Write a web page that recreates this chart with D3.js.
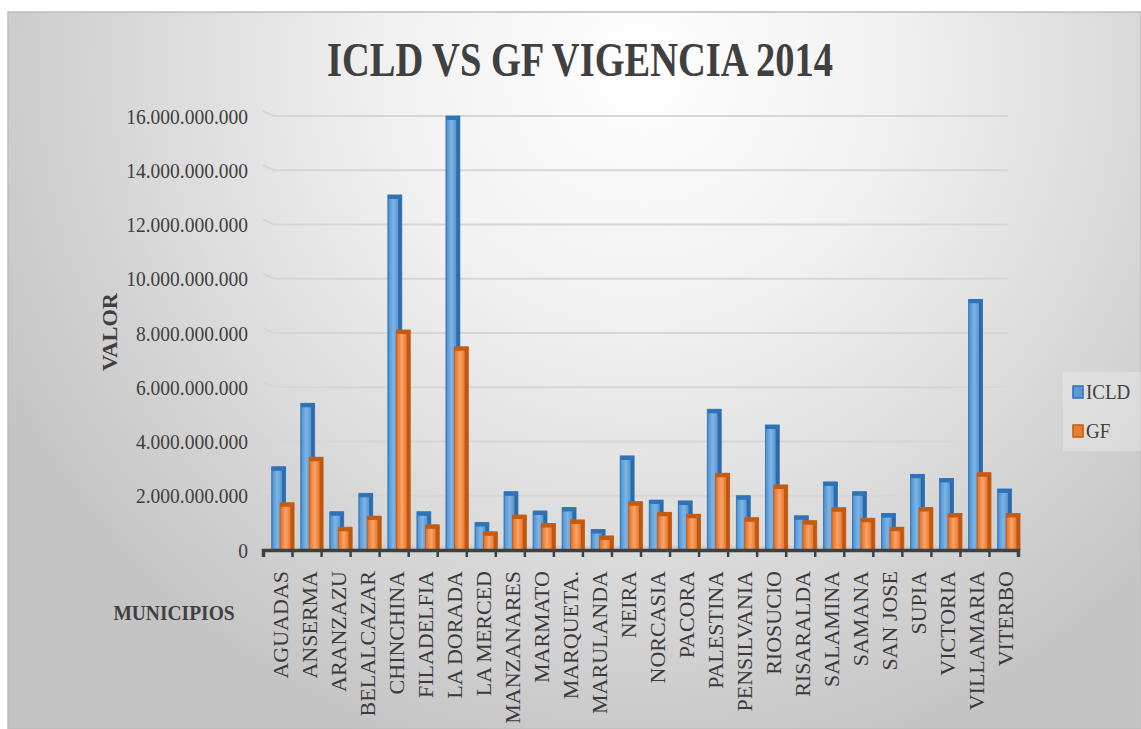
<!DOCTYPE html>
<html>
<head>
<meta charset="utf-8">
<script src="https://cdn.jsdelivr.net/npm/d3@7"></script>
<style>
  body { margin: 0; background: #fff; }
  svg { display: block; font-family: "Liberation Serif", "Times New Roman", serif; }
</style>
</head>
<body>
<div id="chart"></div>
<script>
// données
const municipios = ["AGUADAS", "ANSERMA", "ARANZAZU", "BELALCAZAR", "CHINCHINA", "FILADELFIA",
  "LA DORADA", "LA MERCED", "MANZANARES", "MARMATO", "MARQUETA.", "MARULANDA", "NEIRA",
  "NORCASIA", "PACORA", "PALESTINA", "PENSILVANIA", "RIOSUCIO", "RISARALDA", "SALAMINA",
  "SAMANA", "SAN JOSE", "SUPIA", "VICTORIA", "VILLAMARIA", "VITERBO"];

const icld = [3.07e9, 5.41e9, 1.41e9, 2.09e9, 13.09e9, 1.41e9, 16.0e9, 1.01e9, 2.15e9, 1.44e9,
  1.57e9, 0.76e9, 3.47e9, 1.84e9, 1.81e9, 5.19e9, 2.0e9, 4.61e9, 1.26e9, 2.51e9,
  2.15e9, 1.35e9, 2.79e9, 2.64e9, 9.24e9, 2.25e9];

const gf = [1.74e9, 3.42e9, 0.84e9, 1.25e9, 8.11e9, 0.93e9, 7.49e9, 0.67e9, 1.29e9, 0.98e9,
  1.11e9, 0.52e9, 1.78e9, 1.39e9, 1.32e9, 2.83e9, 1.19e9, 2.4e9, 1.08e9, 1.56e9,
  1.17e9, 0.84e9, 1.57e9, 1.35e9, 2.85e9, 1.35e9];

const series = ["ICLD", "GF"];
const yTicks = [0, 2e9, 4e9, 6e9, 8e9, 10e9, 12e9, 14e9, 16e9];

const W = 1141, H = 729;
const stretch = 1.12; // le texte de l'original est étiré verticalement

const svg = d3.select("#chart").append("svg")
  .attr("width", W)
  .attr("height", H);

const defs = svg.append("defs");

// fond dégradé
const bg = defs.append("radialGradient")
  .attr("id", "bg")
  .attr("gradientUnits", "userSpaceOnUse")
  .attr("cx", 640).attr("cy", 70).attr("r", 720);
bg.append("stop").attr("offset", "0").attr("stop-color", "#ffffff");
bg.append("stop").attr("offset", "0.35").attr("stop-color", "#f1f1f1");
bg.append("stop").attr("offset", "1").attr("stop-color", "#c4c4c4");

// dégradés des barres (effet 3D)
function barGradient(id, edge, light, main, dark) {
  const g = defs.append("linearGradient").attr("id", id)
    .attr("x1", "0").attr("x2", "1").attr("y1", "0").attr("y2", "0");
  g.append("stop").attr("offset", "0").attr("stop-color", edge);
  g.append("stop").attr("offset", "0.12").attr("stop-color", main);
  g.append("stop").attr("offset", "0.4").attr("stop-color", light);
  g.append("stop").attr("offset", "0.7").attr("stop-color", main);
  g.append("stop").attr("offset", "0.78").attr("stop-color", dark);
  g.append("stop").attr("offset", "1").attr("stop-color", dark);
}
barGradient("gICLD", "#3f7fc4", "#7db4e6", "#5b9bd5", "#2e6aa8");
barGradient("gGF", "#d96a22", "#f6a56c", "#ed7d31", "#c1560f");

const couleurs = {
  ICLD: { fill: "url(#gICLD)", dark: "#2e72b8", swatch: "#5b9bd5" },
  GF: { fill: "url(#gGF)", dark: "#c55a11", swatch: "#ed7d31" }
};

svg.append("rect")
  .attr("x", 8).attr("y", 12)
  .attr("width", W - 8).attr("height", H - 12)
  .attr("fill", "url(#bg)")
  .attr("stroke", "#bdbdbd")
  .attr("stroke-width", 1.5);

// échelles
const x = d3.scaleBand()
  .domain(municipios)
  .range([263, 1018])
  .padding(0);

const bw = x.bandwidth();
const xSub = d3.scaleBand()
  .domain(series)
  .range([bw * 0.3, bw * 0.88]);
const barW = bw * 0.48;

const y = d3.scaleLinear()
  .domain([0, 16e9])
  .range([550, 116]);

const fmt = d3.formatLocale({ decimal: ",", thousands: ".", grouping: [3], currency: ["$", ""] }).format(",.0f");

// lignes de quadrillage
svg.append("g")
  .selectAll("path")
  .data(yTicks.filter(d => d > 0))
  .join("path")
  .attr("d", d => `M263,${y(d) - 5}L274,${y(d)}L1008,${y(d)}`)
  .attr("fill", "none")
  .attr("stroke", "#d6d6d6")
  .attr("stroke-width", 2.2);

// sol
svg.append("rect")
  .attr("x", 263).attr("y", y(0) - 4)
  .attr("width", 1018 - 263).attr("height", 4)
  .attr("fill", "#cdcdcd");

// étiquettes axe y
svg.append("g")
  .selectAll("text")
  .data(yTicks)
  .join("text")
  .attr("transform", d => `translate(248,${y(d)}) scale(1,${stretch})`)
  .attr("text-anchor", "end")
  .attr("dy", "0.35em")
  .attr("font-size", 19.5)
  .attr("fill", "#404040")
  .text(d => fmt(d));

// barres
const rows = municipios.map((m, i) => ({ name: m, ICLD: icld[i], GF: gf[i] }));

const groupes = svg.append("g")
  .selectAll("g")
  .data(rows)
  .join("g")
  .attr("transform", d => `translate(${x(d.name)},0)`);

series.forEach(s => {
  const b = groupes.append("g");
  b.append("rect")
    .attr("x", xSub(s))
    .attr("y", d => y(d[s]))
    .attr("width", barW)
    .attr("height", d => y(0) - y(d[s]))
    .attr("fill", couleurs[s].fill)
    .attr("stroke", couleurs[s].dark)
    .attr("stroke-width", 0.8);
  // chapeau du cylindre
  b.append("rect")
    .attr("x", xSub(s))
    .attr("y", d => y(d[s]))
    .attr("width", barW)
    .attr("height", 4)
    .attr("rx", 1.5)
    .attr("fill", couleurs[s].dark);
});

// axe x
const xTicks = d3.scaleLinear()
  .domain([0, municipios.length])
  .range(x.range());

const axeX = svg.append("g")
  .attr("transform", `translate(0,${y(0)})`)
  .call(d3.axisBottom(xTicks).ticks(municipios.length).tickSize(7).tickFormat(""));
axeX.select(".domain").attr("stroke", "#404040").attr("stroke-width", 3.5);
axeX.selectAll(".tick line").attr("stroke", "#404040").attr("stroke-width", 2.5);

svg.append("g")
  .selectAll("text")
  .data(municipios)
  .join("text")
  .attr("transform", d => `translate(${x(d) + bw / 2 + 3},571) rotate(-90) scale(1.1,1)`)
  .attr("text-anchor", "end")
  .attr("dy", "0.35em")
  .attr("font-size", 20)
  .attr("fill", "#3a3a3a")
  .text(d => d);

// titres
svg.append("text")
  .attr("transform", `translate(580,76) scale(1,1.25)`)
  .attr("text-anchor", "middle")
  .attr("font-size", 38.5)
  .attr("font-weight", "bold")
  .attr("fill", "#404040")
  .text("ICLD VS GF VIGENCIA 2014");

svg.append("text")
  .attr("transform", `translate(110,332) rotate(-90) scale(${stretch},1)`)
  .attr("text-anchor", "middle")
  .attr("dy", "0.35em")
  .attr("font-size", 20)
  .attr("font-weight", "bold")
  .attr("fill", "#404040")
  .text("VALOR");

svg.append("text")
  .attr("transform", `translate(174,612) scale(1,${stretch})`)
  .attr("text-anchor", "middle")
  .attr("dy", "0.35em")
  .attr("font-size", 19.5)
  .attr("font-weight", "bold")
  .attr("fill", "#404040")
  .text("MUNICIPIOS");

// légende
const leg = svg.append("g").attr("transform", "translate(1063,372)");
leg.append("rect")
  .attr("width", 78).attr("height", 79)
  .attr("fill", "#ffffff").attr("fill-opacity", 0.25);

const items = leg.selectAll("g")
  .data(series)
  .join("g")
  .attr("transform", (d, i) => `translate(10,${20 + i * 39})`);
items.append("rect")
  .attr("y", -6).attr("width", 10).attr("height", 12)
  .attr("fill", d => couleurs[d].swatch)
  .attr("stroke", d => couleurs[d].dark)
  .attr("stroke-width", 1.5);
items.append("text")
  .attr("transform", `translate(13,0) scale(1,${stretch})`)
  .attr("dy", "0.35em")
  .attr("font-size", 19)
  .attr("fill", "#404040")
  .text(d => d);
</script>
</body>
</html>
